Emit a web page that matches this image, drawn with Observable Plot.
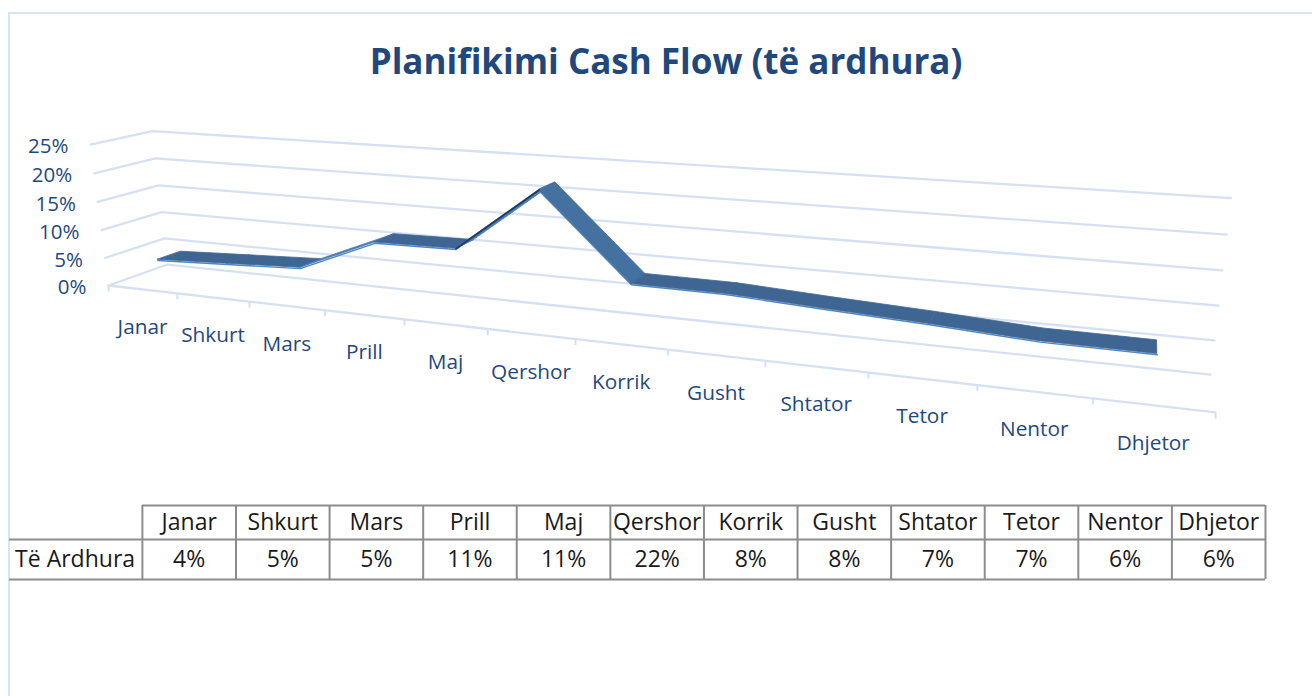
<!DOCTYPE html>
<html>
<head>
<meta charset="utf-8">
<script src="https://cdn.jsdelivr.net/npm/d3@7"></script>
<script src="https://cdn.jsdelivr.net/npm/@observablehq/plot@0.6"></script>
<style>
html,body{margin:0;padding:0;background:#fff;overflow:hidden}
body{width:1312px;height:696px;position:relative;font-family:"Open Sans",sans-serif}
#frame{position:absolute;left:8px;top:12px;right:-4px;bottom:-4px;border:2px solid #d6e4f4}
#title{position:absolute;left:0;top:38px;width:1332px;text-align:center;font:700 35px "Open Sans",sans-serif;color:#1f497d;line-height:46px}
#chart{position:absolute;left:0;top:100px}
#table{position:absolute;left:0;top:500px}
#chart svg g[aria-label="line"] path,#chart svg g[aria-label="area"] path{filter:blur(.5px)}
</style>
</head>
<body>
<div id="frame"></div>
<div id="title">Planifikimi Cash Flow (të ardhura)</div>
<div id="chart"></div>
<div id="table"></div>
<script>
const months = ["Janar","Shkurt","Mars","Prill","Maj","Qershor","Korrik","Gusht","Shtator","Tetor","Nentor","Dhjetor"];
const revenue = [4.2,4.8,5.4,11,11.2,21.7,8.2,8.1,7.3,6.6,5.7,5.6];
const tableValues = ["4%","5%","5%","11%","11%","22%","8%","8%","7%","7%","6%","6%"];
const yTicks = [0,5,10,15,20,25];
const rowLabel = "Të Ardhura";
const yMax = 25;

// Excel-style 3D view: homogeneous camera from (month, value, depth) to the picture plane
const cam = {x:[778.6,-20.7,69,108], y:[15.6,-145.3,-5.1,285], w:[-0.2703,-0.03,0.0601,1]};
const ribbon = [0.30,0.70];
function project(u,h,d){
  const w = cam.w[0]*u+cam.w[1]*h+cam.w[2]*d+cam.w[3];
  return [(cam.x[0]*u+cam.x[1]*h+cam.x[2]*d+cam.x[3])/w,
          (cam.y[0]*u+cam.y[1]*h+cam.y[2]*d+cam.y[3])/w];
}
const n = months.length;
const pos = i => (i+0.5)/n;

const grid = yTicks.flatMap(v => [[0,0],[0,1],[1,1]].map(([u,d]) => {
  const [x,y] = project(u,v/yMax,d); return {v,x,y};
}));
const floor = [0,1].map(u => { const [x,y]=project(u,0,0); return {x,y}; });
const ticks = d3.range(n+1).map(i => { const [x,y]=project(i/n,0,0); return {x,y}; });
const monthLabels = months.map((m,i) => { const [x,y]=project(pos(i),0,0); return {m,x,y}; });
const yLabels = yTicks.map(v => { const [x,y]=project(0,v/yMax,0); return {t:v+"%",x,y}; });

function tone(i){
  const s = revenue[i+1]-revenue[i];
  return s>3 ? "#4a7bb2" : s<-3 ? "#44719f" : "#3f6693";
}
const faces = d3.range(n-1).flatMap(i => [i,i+1].map(j => {
  const [fx,fy]=project(pos(j),revenue[j]/yMax,ribbon[0]);
  const [bx,by]=project(pos(j),revenue[j]/yMax,ribbon[1]);
  return {seg:i,fill:tone(i),fx,fy,bx,by};
}));
const edge = revenue.map((v,i) => { const [x,y]=project(pos(i),v/yMax,ribbon[0]); return {i,x,y}; });
const shade = edge.slice(4,6);

const chart = Plot.plot({
  width:1312, height:380, margin:0,
  x:{domain:[0,1312],range:[0,1312],axis:null},
  y:{domain:[100,480],range:[0,380],axis:null},
  style:{background:"transparent",fontFamily:"'Open Sans',sans-serif",display:"block"},
  marks:[
    Plot.line(grid,{x:"x",y:"y",z:"v",stroke:"#d5e1f3",strokeWidth:2.3,curve:"linear"}),
    Plot.line(floor,{x:"x",y:"y",stroke:"#d5e1f3",strokeWidth:2.3}),
    Plot.link(ticks,{x1:"x",x2:"x",y1:"y",y2:d=>d.y+6,stroke:"#d5e1f3",strokeWidth:2}),
    Plot.line(edge,{x:"x",y:"y",stroke:"#4f86c4",strokeWidth:1.4,dy:0.8}),
    Plot.area(faces,{x1:"fx",y1:"fy",x2:"bx",y2:"by",z:"seg",fill:"fill",stroke:"fill",strokeWidth:0.8}),
    Plot.line(shade,{x:"x",y:"y",stroke:"#1f3a5c",strokeWidth:1.6}),
    Plot.text(yLabels,{x:"x",y:"y",text:"t",dx:-22,dy:2,textAnchor:"end",fontSize:20.5,fill:"#1f497d"}),
    Plot.text(monthLabels,{x:"x",y:"y",text:"m",dy:38,fontSize:20.8,fill:"#1f497d"})
  ]
});
document.getElementById("chart").append(chart);

const cols = months.map((m,i) => ({m,i,v:tableValues[i]}));
const table = Plot.plot({
  width:1312, height:84, margin:0,
  x:{type:"linear",domain:[-1.42,12],range:[9,1265],axis:null},
  y:{type:"linear",domain:[0,1,2],range:[5,39,79],axis:null},
  style:{background:"transparent",fontFamily:"'Open Sans',sans-serif",display:"block"},
  marks:[
    Plot.ruleX(d3.range(n+1),{y1:0,y2:2,stroke:"#8c8c8c",strokeWidth:2}),
    Plot.ruleY([0],{x1:0,x2:n,stroke:"#8c8c8c",strokeWidth:2}),
    Plot.ruleY([1,2],{x1:-1.42,x2:n,stroke:"#8c8c8c",strokeWidth:2}),
    Plot.text(cols,{x:d=>d.i+0.5,y:()=>0.5,text:"m",fontSize:23,fill:"#1a1a1a"}),
    Plot.text(cols,{x:d=>d.i+0.5,y:()=>1.5,text:"v",fontSize:23,fill:"#1a1a1a"}),
    Plot.text([rowLabel],{x:()=>-1.36,y:()=>1.5,text:d=>d,textAnchor:"start",fontSize:23,fill:"#1a1a1a"})
  ]
});
document.getElementById("table").append(table);
</script>
</body>
</html>
